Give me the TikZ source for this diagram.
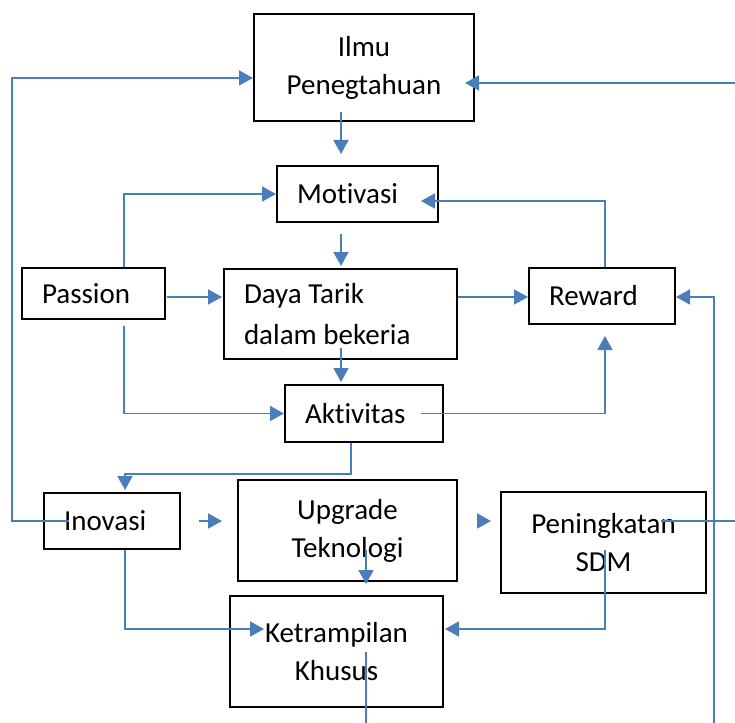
\documentclass[tikz,border=0pt]{standalone}
\usepackage{fontspec}
\setmainfont{Carlito}[Ligatures=NoCommon]
\usetikzlibrary{arrows.meta}
\definecolor{linkblue}{RGB}{74,126,187}

\begin{document}
\begin{tikzpicture}[x=1pt, y=-1pt,
  box/.style={draw, line width=2pt, inner sep=0pt, font=\fontsize{29}{38}\selectfont,
    execute at begin node={\spaceskip=0pt\relax}},
  cbox/.style={box, align=center},
  lbox/.style={box, align=left, inner xsep=20pt, text width=#1},
  arr/.style={draw=linkblue, line width=1.8pt, -{Triangle[length=14pt,width=15pt]}}]
\useasboundingbox (0,0) rectangle (735,722);
\clip (0,0) rectangle (735,722);
% boxes
\node[cbox, minimum width=220pt, minimum height=107pt] (ilmu) at (364,67.5) {Ilmu\\Penegtahuan};
\node[lbox=121pt, minimum height=56pt] (motiv) at (357.5,194) {Motivasi};
\node[lbox=103pt, minimum height=51pt] (passion) at (93.5,293.5) {Passion};
\node[lbox=193pt, minimum height=90pt, font=\fontsize{29}{41}\selectfont] (daya) at (340.5,314)
  {\raisebox{-6pt}{Daya Tarik}\\\raisebox{-6pt}{dalam bekeria}};
\node[lbox=106pt, minimum height=56pt] (reward) at (602,296) {Reward};
\node[lbox=118pt, minimum height=57pt] (aktiv) at (364,413.5) {Aktivitas};
\node[lbox=96pt, minimum height=56pt] (inovasi) at (112,521) {Inovasi};
\node[cbox, minimum width=219pt, minimum height=101pt] (upgrade) at (347.5,530.5) {Upgrade\\Teknologi};
\node[cbox, minimum width=205pt, minimum height=101pt] (sdm) at (603.5,542.5) {Peningkatan\\SDM};
\node[cbox, minimum width=213pt, minimum height=111pt] (ketr) at (336.5,651.5) {Ketrampilan\\Khusus};
% upper part
\draw[arr] ([shift={(-23,-10)}]ilmu.south) -- ([shift={(-16.5,-11)}]motiv.north);
\draw[arr] ([shift={(30.5,0)}]passion.north) |- (motiv.west);
\draw[arr] ([shift={(3,0)}]reward.north) |- ([shift={(-18,7)}]motiv.east);
\draw[arr] ([shift={(-16.5,11)}]motiv.south) -- ([shift={(0.5,-2)}]daya.north);
\draw[arr] ([shift={(1,3.5)}]passion.east) -- ([shift={(-1,-17)}]daya.west);
\draw[arr] ([shift={(0,-17)}]daya.east) -- ([shift={(0,1)}]reward.west);
\draw[arr] ([shift={(0.5,-12)}]daya.south) -- ([shift={(-23,-2)}]aktiv.north);
\draw[arr] ([shift={(30.5,6)}]passion.south) |- (aktiv.west);
\draw[arr] ([shift={(-23,0)}]aktiv.east) -| ([shift={(3,11)}]reward.south);
% lower part
\draw[arr] ([shift={(-13,0)}]aktiv.south) -- ++(0,31) -| ([shift={(13,-2)}]inovasi.north);
\draw[arr] ([shift={(-43,0)}]inovasi.center) -- ++(-57,0) |- ([shift={(0,10.5)}]ilmu.west);
\draw[arr] ([shift={(18,0)}]inovasi.east) -- ([shift={(-15,-9.5)}]upgrade.west);
\draw[arr] ([shift={(20,-9.5)}]upgrade.east) -- ([shift={(-9,-21.5)}]sdm.west);
\draw[arr] ([shift={(18.5,19.5)}]upgrade.center) -- ([shift={(29.5,-11)}]ketr.north);
\draw[arr] ([shift={(13,0)}]inovasi.south) |- ([shift={(35,-22.5)}]ketr.west);
\draw[arr] ([shift={(1.5,7.5)}]sdm.center) |- ([shift={(1,-22.5)}]ketr.east);
% loops leaving the page
\draw[arr] ([shift={(57.5,-21.5)}]sdm.center) -- ++(100,0) |- ([shift={(-10,15.5)}]ilmu.east);
\draw[arr] ([shift={(29.5,0)}]ketr.center) -- ++(0,90) -- ++(348,0) |- ([shift={(0,1)}]reward.east);
\end{tikzpicture}
\end{document}
